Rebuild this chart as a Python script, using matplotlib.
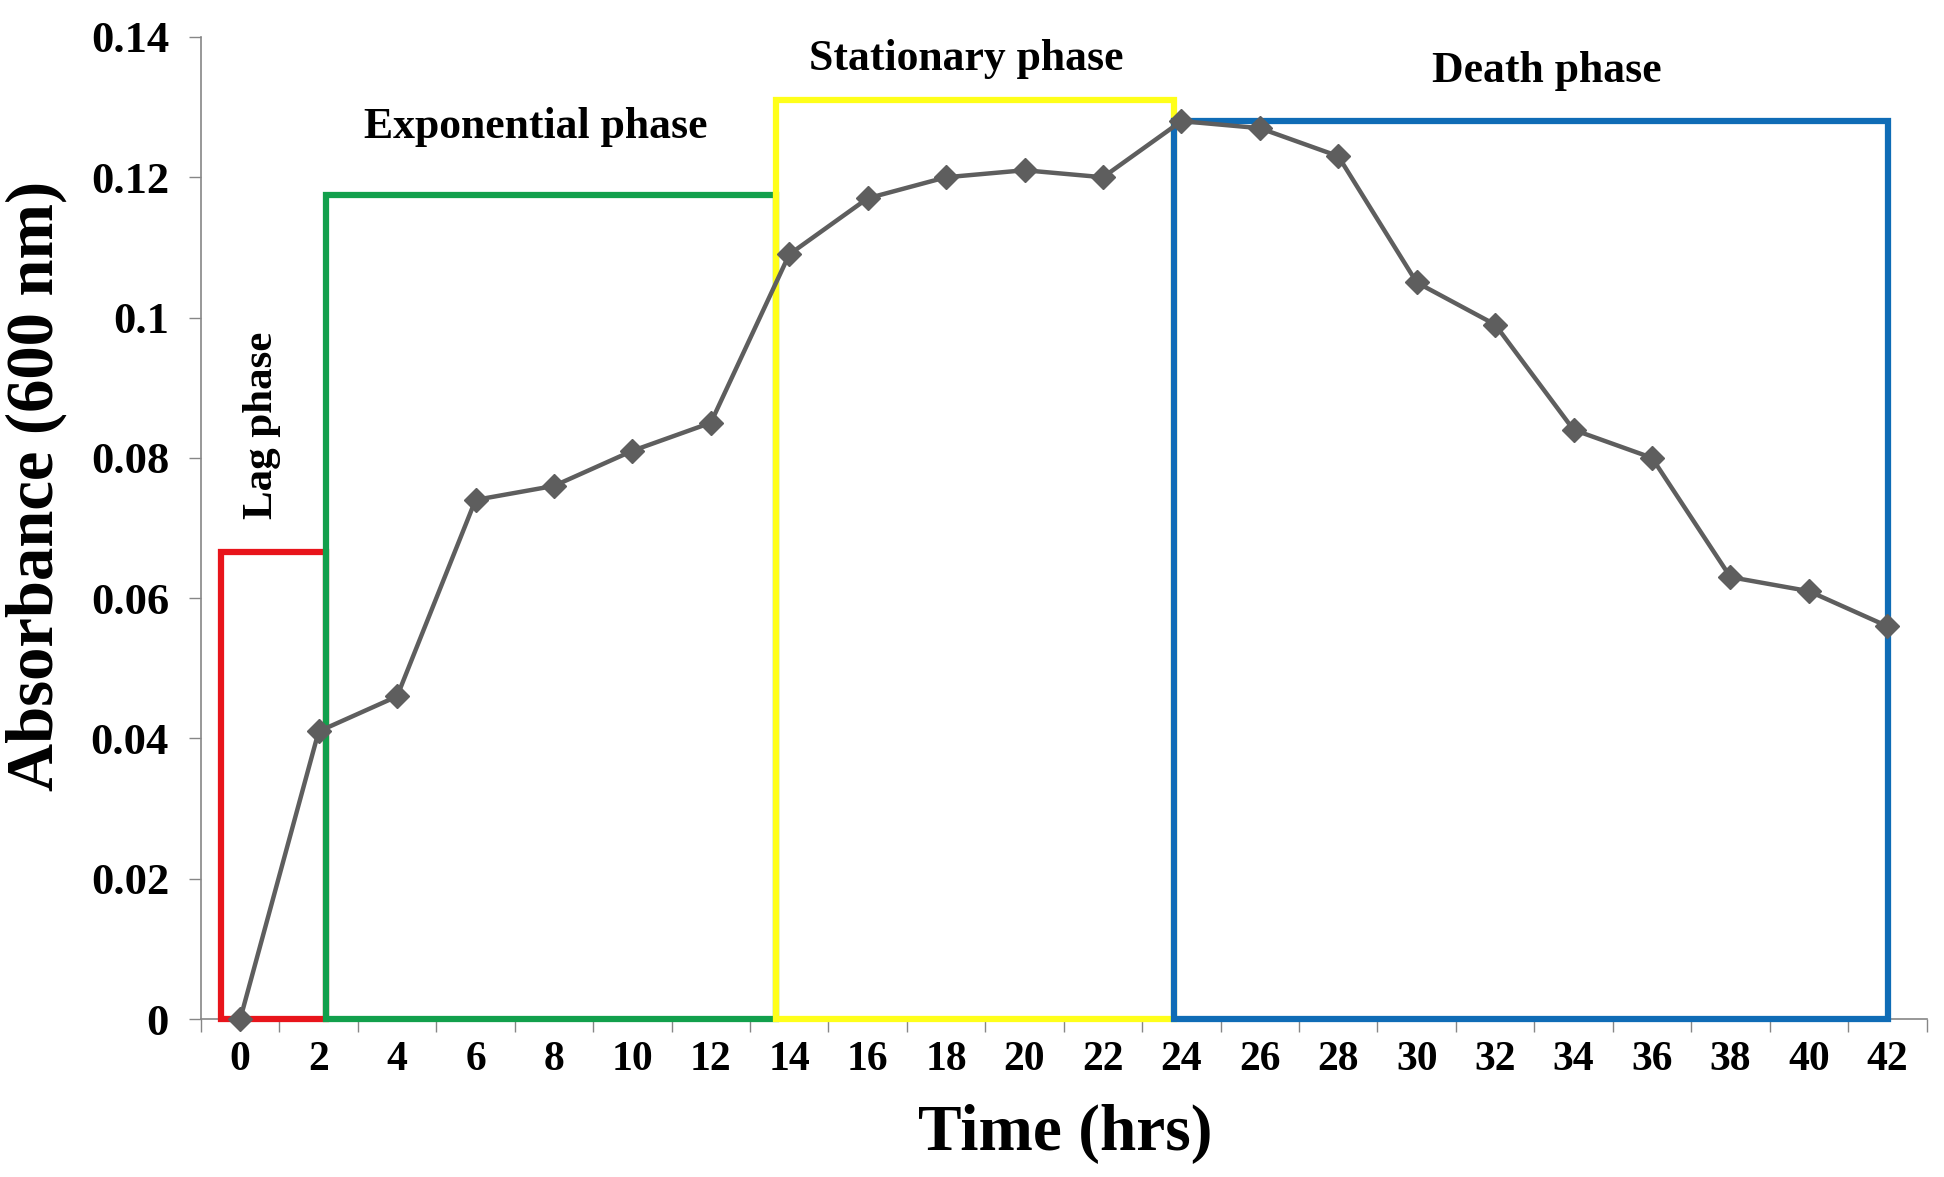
import matplotlib.pyplot as plt
from matplotlib.patches import Rectangle
from matplotlib.ticker import FixedLocator

plt.rcParams['font.family'] = ['Liberation Serif', 'DejaVu Serif']
plt.rcParams['font.weight'] = 'bold'

# growth curve data
hours = [0, 2, 4, 6, 8, 10, 12, 14, 16, 18, 20, 22, 24, 26, 28, 30, 32, 34, 36, 38, 40, 42]
absorbance = [0.000, 0.041, 0.046, 0.074, 0.076, 0.081, 0.085, 0.109, 0.117, 0.120, 0.121,
              0.120, 0.128, 0.127, 0.123, 0.105, 0.099, 0.084, 0.080, 0.063, 0.061, 0.056]
yticks = [0, 0.02, 0.04, 0.06, 0.08, 0.1, 0.12, 0.14]
ytick_labels = ['0', '0.02', '0.04', '0.06', '0.08', '0.1', '0.12', '0.14']

# phase boxes (x in category index units)
phase_names = ['Lag phase', 'Exponential phase', 'Stationary phase', 'Death phase']
phase_start = [-0.25, 1.09, 6.83, 11.91]
phase_end = [1.09, 6.83, 11.91, 21.01]
phase_top = [0.0666, 0.1175, 0.131, 0.128]
phase_colors = ['#e8141b', '#12a04c', '#ffff1a', '#0f6cb6']

fig = plt.figure(figsize=(19.44, 11.77), dpi=100)
ax = fig.add_axes([0.1034, 0.1342, 0.8876, 0.8344])

idx = list(range(len(hours)))

for s, e, t, c in zip(phase_start, phase_end, phase_top, phase_colors):
    ax.add_patch(Rectangle((s, 0), e - s, t, fill=False, edgecolor=c, lw=4.5,
                           joinstyle='miter', zorder=3, clip_on=False))

ax.plot(idx, absorbance, color='#5e5e5e', lw=3.2, marker='D', markersize=12, zorder=4,
        clip_on=False)

ax.set_xlim(-0.5, len(hours) - 0.5)
ax.set_ylim(0, 0.14)

ax.set_xticks(idx)
ax.set_xticklabels([str(h) for h in hours], fontsize=30, fontweight='bold')
ax.xaxis.set_minor_locator(FixedLocator([i - 0.5 for i in range(len(hours) + 1)]))
ax.tick_params(axis='x', which='major', length=0, pad=16)
ax.tick_params(axis='x', which='minor', length=9, width=1, color='#868686', direction='out')

ax.set_yticks(yticks)
ax.set_yticklabels(ytick_labels, fontsize=32, fontweight='bold')
ax.tick_params(axis='y', length=9, width=1, color='#868686', direction='out', pad=14)

for side in ['top', 'right']:
    ax.spines[side].set_visible(False)
for side in ['left', 'bottom']:
    ax.spines[side].set_color('#868686')
    ax.spines[side].set_linewidth(1.2)

ax.set_xlabel('Time (hrs)', fontsize=47, fontweight='bold')
ax.set_ylabel('Absorbance (600 nm)', fontsize=48, fontweight='bold')
ax.xaxis.set_label_coords(0.501, -0.117)
ax.xaxis.label.set_va('center')
ax.yaxis.set_label_coords(-0.0956, 0.543)
ax.yaxis.label.set_va('center')

# phase labels
ax.text(0.28, 0.0847, phase_names[0], fontsize=31, fontweight='bold', rotation=90,
        ha='center', va='center')
ax.text(3.77, 0.1271, phase_names[1], fontsize=31.5, fontweight='bold', ha='center', va='center')
ax.text(9.26, 0.1368, phase_names[2], fontsize=31.5, fontweight='bold', ha='center', va='center')
ax.text(16.66, 0.1352, phase_names[3], fontsize=31.5, fontweight='bold', ha='center', va='center')

fig.savefig('out.png', dpi=100)
